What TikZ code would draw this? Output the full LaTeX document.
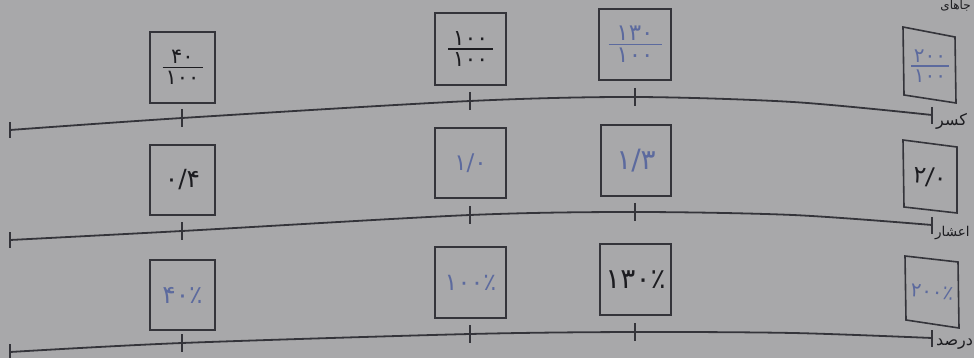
\documentclass[tikz,border=0pt]{standalone}
\usepackage{fontspec}
\TeXXeTstate=1
\newfontfamily\arabicfont[Script=Arabic]{DejaVu Sans}
\definecolor{bgc}{RGB}{168,168,170}
\definecolor{linec}{RGB}{52,52,58}
\definecolor{blk}{RGB}{28,28,32}
\definecolor{blu}{RGB}{92,106,158}
\newcommand\pfrac[3]{\vbox{\hbox to #1{\hss#2\hss}\kern3pt\hrule height 1.4pt\kern3pt\hbox to #1{\hss#3\hss}}}
\tikzset{
  box/.style={draw=linec, line width=1.6pt, inner sep=0pt},
  axis/.style={draw=linec, line width=1.8pt, line join=round},
  tk/.style={draw=linec, line width=1.5pt},
  blk/.style={text=blk},
  blu/.style={text=blu},
  fs/.style={font=\fontsize{#1}{#1}\arabicfont},
  lbl/.style={font=\fontsize{16}{16}\arabicfont, text=blk, inner sep=0pt},
}
\begin{document}
\begin{tikzpicture}[x=1pt,y=-1pt]
\useasboundingbox (0,0) rectangle (974,358);
\clip (0,0) rectangle (974,358);
\fill[bgc] (0,0) rectangle (974,358);

% ---------- top partial text
\node[lbl, fs=12, anchor=base east] (top) at (971,10) {\beginR جاهای\endR};

% ---------- row 1: fractions
\node[box, minimum width=65pt, minimum height=71pt, fs=21, blk] (f1) at (182.5,67.5) {\pfrac{40pt}{۴۰}{۱۰۰}};
\node[box, minimum width=71pt, minimum height=72pt, fs=22, blk] (f2) at (470.5,49) {\pfrac{45pt}{۱۰۰}{۱۰۰}};
\node[box, minimum width=72pt, minimum height=71pt, fs=23, blu] (f3) at (635,44.5) {\pfrac{53pt}{۱۳۰}{۱۰۰}};
\coordinate (f4a) at (903,27); \coordinate (f4b) at (955,37);
\coordinate (f4c) at (956,103); \coordinate (f4d) at (904,95);
\draw[box] (f4a)--(f4b)--(f4c)--(f4d)--cycle;
\node[fs=20, blu] (f4) at (930,66) {\pfrac{38pt}{۲۰۰}{۱۰۰}};

\draw[axis] plot[smooth, tension=0.5] coordinates {(10,130) (182,118) (470,101) (635,97) (793,102) (932,115)};
\draw[tk] (10,122)--(10,138);
\draw[tk] (182,109)--(182,127);
\draw[tk] (470,92)--(470,110);
\draw[tk] (635,88)--(635,106);
\draw[tk] (932,107)--(932,124);
\node[lbl, anchor=west] (l1) at (936,121) {\beginR کسر\endR};

% ---------- row 2: decimals
\node[box, minimum width=65pt, minimum height=70pt, fs=25, blk] (d1) at (182.5,180) {۰/۴};
\node[box, minimum width=71pt, minimum height=70pt, fs=23, blu] (d2) at (470.5,163) {۱/۰};
\node[box, minimum width=70pt, minimum height=71pt, fs=28, blu] (d3) at (636,160.5) {۱/۳};
\coordinate (d4a) at (903,140); \coordinate (d4b) at (957,147);
\coordinate (d4c) at (957,213); \coordinate (d4d) at (904,207);
\draw[box] (d4a)--(d4b)--(d4c)--(d4d)--cycle;
\node[fs=24, blk, rotate=-6] (d4) at (930,177) {۲/۰};

\draw[axis] plot[smooth, tension=0.5] coordinates {(10,240) (182,231) (470,215) (635,212) (793,215) (932,225)};
\draw[tk] (10,232)--(10,248);
\draw[tk] (182,222)--(182,240);
\draw[tk] (470,206)--(470,224);
\draw[tk] (635,203)--(635,221);
\draw[tk] (932,217)--(932,234);
\node[lbl, fs=13.5, anchor=west] (l2) at (935,233) {\beginR اعشار\endR};

% ---------- row 3: percents
\node[box, minimum width=65pt, minimum height=70pt, fs=25, blu] (p1) at (182.5,295) {۴۰٪};
\node[box, minimum width=71pt, minimum height=71pt, fs=24, blu] (p2) at (470.5,282.5) {۱۰۰٪};
\node[box, minimum width=71pt, minimum height=71pt, fs=28, blk] (p3) at (635.5,279.5) {۱۳۰٪};
\coordinate (p4a) at (905,256); \coordinate (p4b) at (958,262);
\coordinate (p4c) at (959,328); \coordinate (p4d) at (906,320);
\draw[box] (p4a)--(p4b)--(p4c)--(p4d)--cycle;
\node[fs=20, blu, rotate=-5] (p4) at (932,292) {۲۰۰٪};

\draw[axis] plot[smooth, tension=0.5] coordinates {(10,352) (182,343) (470,334) (635,332) (793,333) (932,338)};
\draw[tk] (10,344)--(10,360);
\draw[tk] (182,334)--(182,352);
\draw[tk] (470,325)--(470,343);
\draw[tk] (635,323)--(635,341);
\draw[tk] (932,330)--(932,347);
\node[lbl, anchor=west] (l3) at (936,344) {\beginR درصد\endR};
\end{tikzpicture}
\end{document}
